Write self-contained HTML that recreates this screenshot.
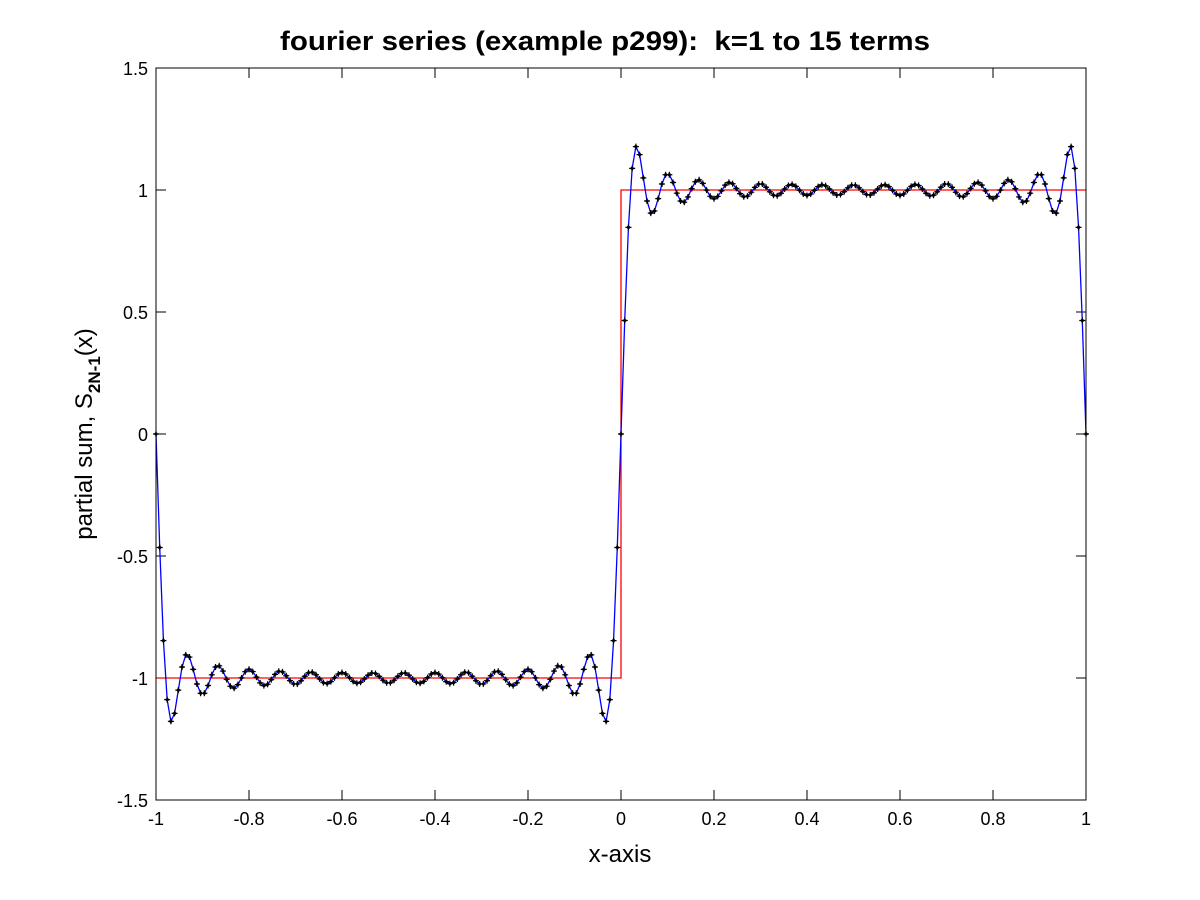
<!DOCTYPE html>
<html><head><meta charset="utf-8"><style>
html,body{margin:0;padding:0;background:#fff;}
svg{display:block;font-family:"Liberation Sans",sans-serif;}
</style></head><body>
<svg id="s" width="1200" height="900" xmlns="http://www.w3.org/2000/svg">
<rect width="1200" height="900" fill="#fff"/>
<text x="280" y="50" font-size="27" font-weight="bold" textLength="650" lengthAdjust="spacingAndGlyphs" xml:space="preserve">fourier series (example p299):  k=1 to 15 terms</text>
<text x="620" y="862" font-size="24" text-anchor="middle">x-axis</text>
<text transform="translate(92,434) rotate(-90)" font-size="24" text-anchor="middle">partial sum, S<tspan font-size="17" dy="8" font-weight="bold">2N-1</tspan><tspan dy="-8">(x)</tspan></text>
<g id="g"></g>
</svg>
<script>
var X0=156,X1=1086;
function px(x){return X0+(x+1)/2*(X1-X0);}
function py(y){return 434-y*244;}
function S(x){var s=0;for(var k=1;k<=15;k++){var n=2*k-1;s+=Math.sin(n*Math.PI*x)/n;}return 4/Math.PI*s;}
var h='';
for(var i=0;i<=10;i++){var x=-1+i*0.2,X=px(x);
h+='<line x1="'+X+'" y1="800" x2="'+X+'" y2="790" stroke="#000"/><line x1="'+X+'" y1="68" x2="'+X+'" y2="78" stroke="#000"/>';
var l=(Math.abs(x)<1e-9)?'0':(Math.round(x*10)/10).toString();
h+='<text x="'+X+'" y="825" font-size="18" text-anchor="middle">'+l+'</text>';}
for(var i=0;i<=6;i++){var y=-1.5+i*0.5,Y=py(y);
h+='<line x1="156" y1="'+Y+'" x2="166" y2="'+Y+'" stroke="#000"/><line x1="1086" y1="'+Y+'" x2="1076" y2="'+Y+'" stroke="#000"/>';
var l=(Math.abs(y)<1e-9)?'0':y.toString();
h+='<text x="148" y="'+(Y+7)+'" font-size="18" text-anchor="end">'+l+'</text>';}
h+='<polyline fill="none" stroke="#f00" stroke-width="1.3" points="'+px(-1)+','+py(-1)+' '+px(0)+','+py(-1)+' '+px(0)+','+py(1)+' '+px(1)+','+py(1)+'"/>';
var p=[];for(var i=0;i<=250;i++){var x=-1+i*0.008;p.push(px(x).toFixed(2)+','+py(S(x)).toFixed(2));}
h+='<polyline fill="none" stroke="#00f" stroke-width="1.3" points="'+p.join(' ')+'"/>';
var d='';for(var i=0;i<=250;i++){var x=-1+i*0.008,X=px(x),Y=py(S(x));
d+='M'+(X-3).toFixed(2)+' '+Y.toFixed(2)+'h6M'+X.toFixed(2)+' '+(Y-3).toFixed(2)+'v6';
h+='<circle cx="'+X.toFixed(2)+'" cy="'+Y.toFixed(2)+'" r="1.6"/>';}
h+='<path d="'+d+'" stroke="#000" stroke-width="1.2"/>';
h+='<rect x="156" y="68" width="930" height="732" fill="none" stroke="#000"/>';
document.getElementById('g').innerHTML=h;
</script>
</body></html>
